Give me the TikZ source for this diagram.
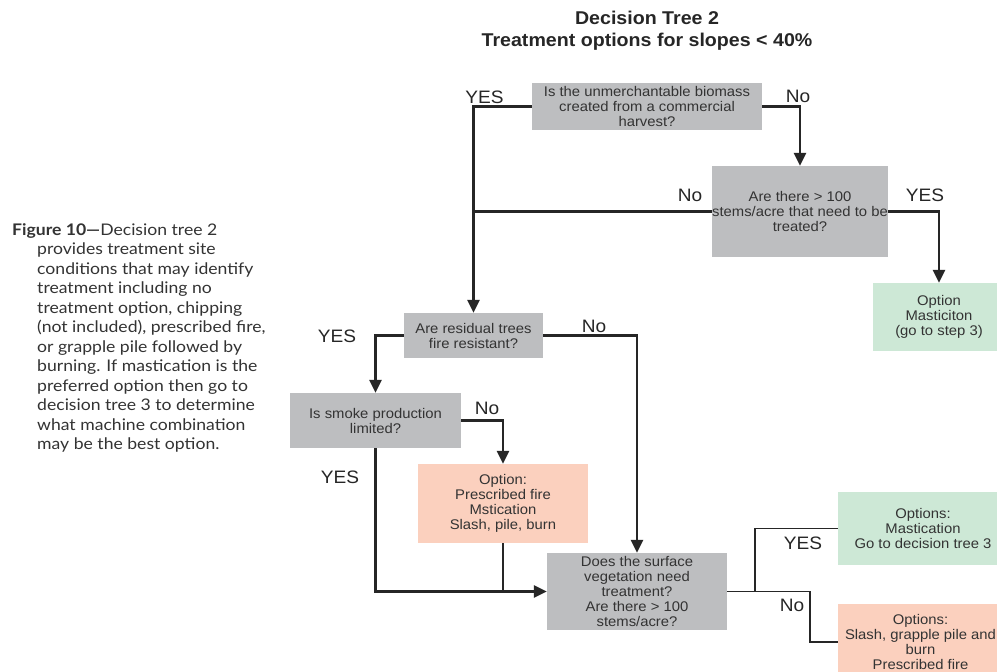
\documentclass[tikz,border=0pt]{standalone}
\usepackage{fontspec}
\setmainfont[FakeStretch=1.06]{Liberation Sans}
\newfontfamily\capfont[FakeStretch=1.1]{Lato}
\usetikzlibrary{arrows.meta}
\definecolor{boxgray}{HTML}{BDBEC0}
\definecolor{boxgreen}{HTML}{CDE8D6}
\definecolor{boxsalmon}{HTML}{FBD0BE}
\definecolor{txt}{HTML}{333333}
\definecolor{ln}{HTML}{262626}
\tikzset{
  box/.style={rectangle, inner sep=0pt, align=center, text=txt, font=\fontsize{14}{15}\selectfont},
  gbox/.style={box, fill=boxgray},
  greenbox/.style={box, fill=boxgreen},
  salmonbox/.style={box, fill=boxsalmon},
  lab/.style={font=\fontsize{18}{18}\selectfont, text=ln, inner sep=0pt},
  arr/.style={draw=ln, line width=2.6pt, -{Triangle[width=12pt,length=13pt]}},
  plainln/.style={draw=ln, line width=2.6pt},
  thinln/.style={draw=ln, line width=1.4pt}
}
\begin{document}
\begin{tikzpicture}[x=1pt,y=-1pt]
\useasboundingbox (0,0) rectangle (997,672);
\clip (0,0) rectangle (997,672);
\fill[white] (0,0) rectangle (997,672);

% title
\node[font=\bfseries\fontsize{18.5}{22}\selectfont, text=ln, align=center, inner sep=0pt] (title) at (647,30.5) {Decision Tree 2\\Treatment options for slopes < 40\%};

% caption
\node[anchor=north west, inner sep=0pt, align=left, text=txt, font=\capfont\fontsize{16}{19.5}\selectfont] (cap) at (12,223)
{\textbf{Figure 10—}Decision tree 2\\
\hspace*{25pt}provides treatment site\\
\hspace*{25pt}conditions that may identify\\
\hspace*{25pt}treatment including no\\
\hspace*{25pt}treatment option, chipping\\
\hspace*{25pt}(not included), prescribed fire,\\
\hspace*{25pt}or grapple pile followed by\\
\hspace*{25pt}burning. If mastication is the\\
\hspace*{25pt}preferred option then go to\\
\hspace*{25pt}decision tree 3 to determine\\
\hspace*{25pt}what machine combination\\
\hspace*{25pt}may be the best option.};

% boxes
\node[gbox, minimum width=230pt, minimum height=47pt] (b1) at (647,106.5) {Is the unmerchantable biomass\\created from a commercial\\harvest?};
\node[gbox, minimum width=176pt, minimum height=91pt] (b2) at (800,211.5) {Are there > 100\\stems/acre that need to be\\treated?};
\node[greenbox, minimum width=132pt, minimum height=68pt] (o1) at (939,317) {Option\\Masticiton\\(go to step 3)};
\node[gbox, minimum width=139pt, minimum height=45pt] (b3) at (473.5,335.5) {Are residual trees\\fire resistant?};
\node[gbox, minimum width=171pt, minimum height=55pt] (b4) at (375.5,420.5) {Is smoke production\\limited?};
\node[salmonbox, minimum width=170pt, minimum height=79pt] (o2) at (503,503.5) {Option:\\Prescribed fire\\Mstication\\Slash, pile, burn};
\node[gbox, minimum width=180pt, minimum height=77pt] (b6) at (637,591.5) {Does the surface\\vegetation need\\treatment?\\Are there > 100\\stems/acre?};
\node[greenbox, minimum width=170pt, minimum height=73pt] (o3) at (923,528.5) {Options:\\Mastication\\Go to decision tree 3};
\node[salmonbox, minimum width=165pt, minimum height=76pt] (o4) at (920.5,642) {Options:\\Slash, grapple pile and\\burn\\Prescribed fire};

% connectors
\draw[arr] (b1.west) -| (b3.north);
\draw[arr] (b1.east) -| (b2.north);
\draw[plainln] (b2.west) -- (b2.west -| b3.north);
\draw[arr] (b2.east) -| (o1.north);
\draw[arr] (b3.west) -| (b4.north);
\draw[arr] (b3.east) -| (b6.north);
\draw[arr] (b4.east) -| (o2.north);
\draw[arr] (b4.south) |- (b6.west);
\draw[plainln] (o2.south) -- (o2.south |- b6.west);
\coordinate (j1) at (755,591.5);
\coordinate (j2) at (810,591.5);
\draw[thinln] (b6.east) -- (j1) |- (o3.west);
\draw[thinln] (j1) -- (j2) |- (o4.west);

% labels
\node[lab] (l1) at (484.5,97) {YES};
\node[lab] (l2) at (798,96) {No};
\node[lab] (l3) at (690,195) {No};
\node[lab] (l4) at (925,195) {YES};
\node[lab] (l5) at (337,336) {YES};
\node[lab] (l6) at (594,326) {No};
\node[lab] (l7) at (487,408) {No};
\node[lab] (l8) at (340,477) {YES};
\node[lab] (l9) at (803,543) {YES};
\node[lab] (l10) at (792,605) {No};
\end{tikzpicture}
\end{document}
